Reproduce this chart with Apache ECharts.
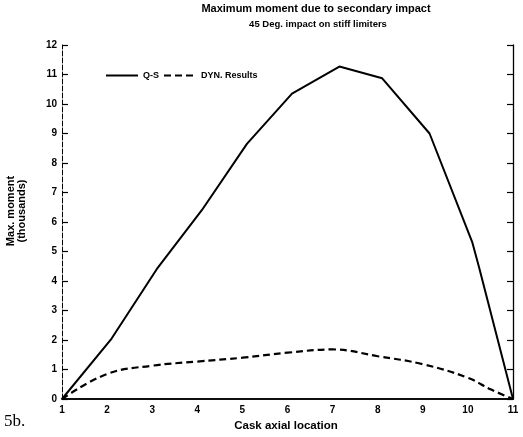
<!DOCTYPE html>
<html>
<head>
<meta charset="utf-8">
<script src="https://cdn.jsdelivr.net/npm/echarts@6/dist/echarts.min.js"></script>
<style>html,body{margin:0;padding:0;background:#fff}#c{width:523px;height:437px}</style>
</head>
<body>
<div id="c"></div>
<script>
const titleText = "Maximum moment due to secondary impact";
const subtitleText = "45 Deg. impact on stiff limiters";
const xName = "Cask axial location";
const yName1 = "Max. moment";
const yName2 = "(thousands)";
const figLabel = "5b.";
const seriesNames = ["Q-S", "DYN. Results"];
const qsX = [1, 2.1, 3.1, 4.1, 5.1, 6.1, 7.15, 8.1, 9.15, 10.1, 10.25, 11];
const qsY = [0, 2.05, 4.4, 6.4, 8.65, 10.35, 11.27, 10.87, 9.0, 5.3, 4.45, 0];
const dynX = [1, 2, 3, 4, 5, 6, 7, 8, 9, 10, 10.5, 11];
const dynY = [0, 0.85, 1.13, 1.27, 1.4, 1.57, 1.68, 1.45, 1.18, 0.72, 0.33, 0];

const font = "Liberation Sans, Arial, sans-serif";
const chart = echarts.init(document.getElementById('c'), null, {renderer: 'canvas'});
const pair = (xs, ys) => xs.map((x, i) => [x, ys[i]]);
chart.setOption({
  animation: false,
  backgroundColor: '#fff',
  grid: {left: 62, right: 10, top: 45, bottom: 38},
  legend: {
    left: 100, top: 66, itemWidth: 32, itemHeight: 10, itemGap: 4,
    itemStyle: {opacity: 0},
    textStyle: {fontFamily: font, fontWeight: 'bold', fontSize: 9, color: '#000'},
    data: seriesNames
  },
  xAxis: [{
    type: 'value', min: 1, max: 11, interval: 1,
    axisLine: {show: true, lineStyle: {color: '#000', width: 1.6}},
    axisTick: {show: false},
    splitLine: {show: false},
    axisLabel: {fontFamily: font, fontWeight: 'bold', fontSize: 10, color: '#000', margin: 6}
  }, {
    type: 'value', min: 1, max: 11, position: 'top',
    axisLine: {show: true, lineStyle: {color: '#000', width: 1.5}},
    axisTick: {show: false}, axisLabel: {show: false}, splitLine: {show: false}
  }],
  yAxis: [{
    type: 'value', min: 0, max: 12, interval: 1,
    axisLine: {show: true, lineStyle: {color: '#000', width: 1, type: [5, 2]}},
    axisTick: {show: true, inside: true, length: 6, lineStyle: {color: '#000', width: 1.2}},
    splitLine: {show: false},
    axisLabel: {fontFamily: font, fontWeight: 'bold', fontSize: 10, color: '#000', margin: 5}
  }, {
    type: 'value', min: 0, max: 12, interval: 1, position: 'right',
    axisLine: {show: true, lineStyle: {color: '#000', width: 1.3}},
    axisTick: {show: true, inside: true, length: 6, lineStyle: {color: '#000', width: 1.2}},
    axisLabel: {show: false}, splitLine: {show: false}
  }],
  series: [{
    name: seriesNames[0], type: 'line', symbol: 'none',
    data: pair(qsX, qsY),
    lineStyle: {color: '#000', width: 2}, itemStyle: {color: '#000'}
  }, {
    name: seriesNames[1], type: 'line', symbol: 'none', smooth: 0.4,
    data: pair(dynX, dynY),
    lineStyle: {color: '#000', width: 2.2, type: [7, 4]}, itemStyle: {color: '#000'}
  }],
  graphic: [
    {type: 'text', x: 316, y: 9, style: {text: titleText, font: 'bold 11px ' + font, fill: '#000', align: 'center', verticalAlign: 'middle'}},
    {type: 'text', x: 318, y: 24, style: {text: subtitleText, font: 'bold 9.5px ' + font, fill: '#000', align: 'center', verticalAlign: 'middle'}},
    {type: 'text', x: 286, y: 426, style: {text: xName, font: 'bold 11.5px ' + font, fill: '#000', align: 'center', verticalAlign: 'middle'}},
    {type: 'text', x: 11, y: 211, rotation: Math.PI / 2, style: {text: yName1, font: 'bold 11px ' + font, fill: '#000', align: 'center', verticalAlign: 'middle'}},
    {type: 'text', x: 22, y: 211, rotation: Math.PI / 2, style: {text: yName2, font: 'bold 11px ' + font, fill: '#000', align: 'center', verticalAlign: 'middle'}},
    {type: 'text', x: 4, y: 422, style: {text: figLabel, font: '17px Liberation Serif, serif', fill: '#000', align: 'left', verticalAlign: 'middle'}}
  ]
});
</script>
</body>
</html>
